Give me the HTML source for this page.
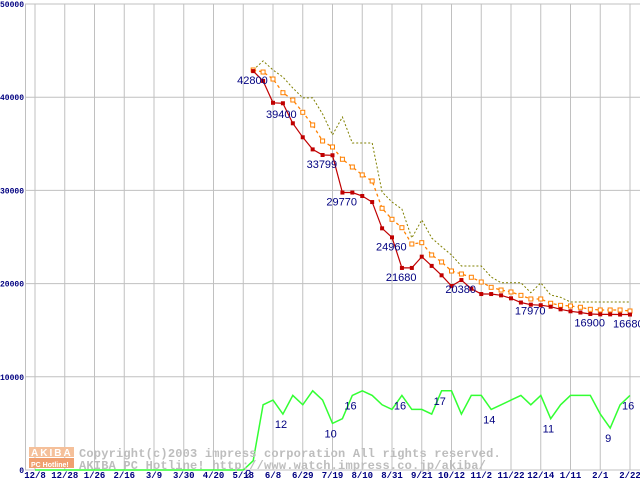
<!DOCTYPE html>
<html><head><meta charset="utf-8"><style>
html,body{margin:0;padding:0;background:#fff;width:640px;height:480px;overflow:hidden}
svg{display:block}
</style></head><body>
<svg id="chart" width="640" height="480" xmlns="http://www.w3.org/2000/svg">
<g id="wm">
<rect x="29" y="447" width="45" height="10" fill="#f5c09a"/>
<rect x="29" y="458" width="45" height="10" fill="#f0a070"/>
<text x="31" y="456" font-family="Liberation Sans, sans-serif" font-size="10" font-weight="bold" fill="#fff" letter-spacing="2">AKIBA</text>
<text x="31" y="467" font-family="Liberation Sans, sans-serif" font-size="7" font-weight="bold" fill="#fff">PC Hotline!</text>
<text x="79" y="457" font-family="Liberation Mono, monospace" font-size="12" font-weight="bold" fill="#bdbdbd" letter-spacing="0.2">Copyright(c)2003 impress corporation All rights reserved.</text>
<text x="79" y="469" font-family="Liberation Mono, monospace" font-size="12" font-weight="bold" fill="#bdbdbd" letter-spacing="0.2">AKIBA PC Hotline! http://www.watch.impress.co.jp/akiba/</text>
</g>
</svg>
<script>
const xLabels=["12/8","12/28","1/26","2/16","3/9","3/30","4/20","5/18","6/8","6/29","7/19","8/10","8/31","9/21","10/12","11/2","11/22","12/14","1/11","2/1","2/22"];
const yTicks=[0,10000,20000,30000,40000,50000];
const minPrice=[42800,41740,39400,39350,37200,35700,34400,33799,33770,29770,29770,29400,28750,25930,24960,21680,21680,22890,21900,20890,19740,20380,19450,18880,18880,18740,18420,17970,17740,17680,17520,17240,17030,16900,16740,16700,16700,16680,16680];
const avgPrice=[42920,42700,41950,40480,39700,38380,37020,35300,34660,33340,32510,31660,31010,28080,26900,26000,24250,24390,23070,22320,21350,21030,20680,20170,19600,19310,19100,18740,18350,18350,17890,17670,17600,17460,17240,17170,17170,17170,17060];
const maxPrice=[42920,43890,42920,42170,40990,39920,39920,38200,35950,37880,35090,35090,35090,29830,28760,27990,24890,26830,24890,23960,23070,21890,21890,21890,20710,20100,20100,20100,19020,20070,18780,18530,18030,18030,18030,18030,18030,18030,18030];
const shopCount=[0,0,0,0,0,0,0,0,0,0,0,0,0,0,0,0,0,0,0,0,0,0,2,14,15,12,16,14,17,15,10,11,16,17,16,14,13,16,13,13,12,17,17,12,16,16,13,14,15,16,14,16,11,14,16,16,16,12,9,14,16];
const priceLabels=[[0,"42800"],[2,"39400"],[7,"33799"],[9,"29770"],[14,"24960"],[15,"21680"],[21,"20380"],[27,"17970"],[33,"16900"],[38,"16680"]];
const countLabels=[[22,"2"],[25,"12"],[30,"10"],[32,"16"],[37,"16"],[41,"17"],[46,"14"],[52,"11"],[58,"9"],[60,"16"]];
const START=22;
const NS="http://www.w3.org/2000/svg";
const svg=document.getElementById('chart');
const X=j=>35+j*(595/60);
const Y=v=>470-v*0.00932;
const YC=c=>Y(c*500);
function mk(tag,at,parent){const e=document.createElementNS(NS,tag);for(const k in at)e.setAttribute(k,at[k]);(parent||svg).appendChild(e);return e;}
const wm=document.getElementById('wm');
const grid=mk('g',{});


svg.insertBefore(grid,wm);
yTicks.forEach(v=>{
 const l=mk('line',{x1:25,x2:640,y1:Y(v),y2:Y(v),stroke:'#c0c0c0','stroke-width':1},grid);
 
 
 const s=String(v);
 const at={x:24-s.length*4.8,y:Y(v)+3,'font-family':'Liberation Mono, monospace','font-size':8,'font-weight':'bold',fill:'#000080',textLength:s.length*4.8,lengthAdjust:'spacingAndGlyphs'};
 const t=mk('text',at);
 t.textContent=s;
 
 
});
const ax=mk('line',{x1:25.5,x2:25.5,y1:4,y2:470,stroke:'#c0c0c0'},grid);


xLabels.forEach((s,i)=>{
 const x=X(i*3);
 const l=mk('line',{x1:x,x2:x,y1:4,y2:470,stroke:'#c0c0c0','stroke-width':1},grid);
 
 
 const t=mk('text',{x:x,y:478,'text-anchor':'middle','font-family':'Liberation Mono, monospace','font-size':9,'font-weight':'bold',fill:'#000080'});
 t.textContent=s;
 
 
});
function pts(arr,off,f){return arr.map((v,i)=>X(i+off).toFixed(1)+','+f(v).toFixed(1)).join(' ');}
const gl=mk('polyline',{points:pts(shopCount,0,YC),fill:'none',stroke:'#33ff33','stroke-width':1.5});


const ml=mk('polyline',{points:pts(maxPrice,START,Y),fill:'none',stroke:'#808000','stroke-width':1,'stroke-dasharray':'2,2'});


const al=mk('polyline',{points:pts(avgPrice,START,Y),fill:'none',stroke:'#ff8000','stroke-width':1.3,'stroke-dasharray':'3,3'});


avgPrice.forEach((v,i)=>{
 const r=mk('rect',{x:X(i+START)-2,y:Y(v)-2,width:4,height:4,fill:'#fff',stroke:'#ff8000','stroke-width':1});
 
 
});
const rl=mk('polyline',{points:pts(minPrice,START,Y),fill:'none',stroke:'#c00000','stroke-width':1.2});


minPrice.forEach((v,i)=>{
 const r=mk('rect',{x:X(i+START)-2,y:Y(v)-2,width:4,height:4,fill:'#c00000'});
 
 
});
const pOff={0:[-16,13],2:[-7,15],7:[-16,13],9:[-16,13],14:[-16,13],15:[-16,13],21:[-16,13],27:[-6,12],33:[-6,14],38:[-17,13]};
priceLabels.forEach(([i,s])=>{
 const o=pOff[i];
 const t=mk('text',{x:X(i+START)+o[0],y:Y(minPrice[i])+o[1],'font-family':'Liberation Sans, sans-serif','font-size':11,fill:'#000080'});
 t.textContent=s;
 
 
});
countLabels.forEach(([j,s])=>{
 const t=mk('text',{x:X(j)-(s.length>1?8:5)+(j===22?-3:0),y:YC(shopCount[j])+14+(j===22?3:0),'font-family':'Liberation Sans, sans-serif','font-size':11,fill:'#000080'});
 t.textContent=s;
 
 
});
svg.appendChild(wm);
</script>
</body></html>
